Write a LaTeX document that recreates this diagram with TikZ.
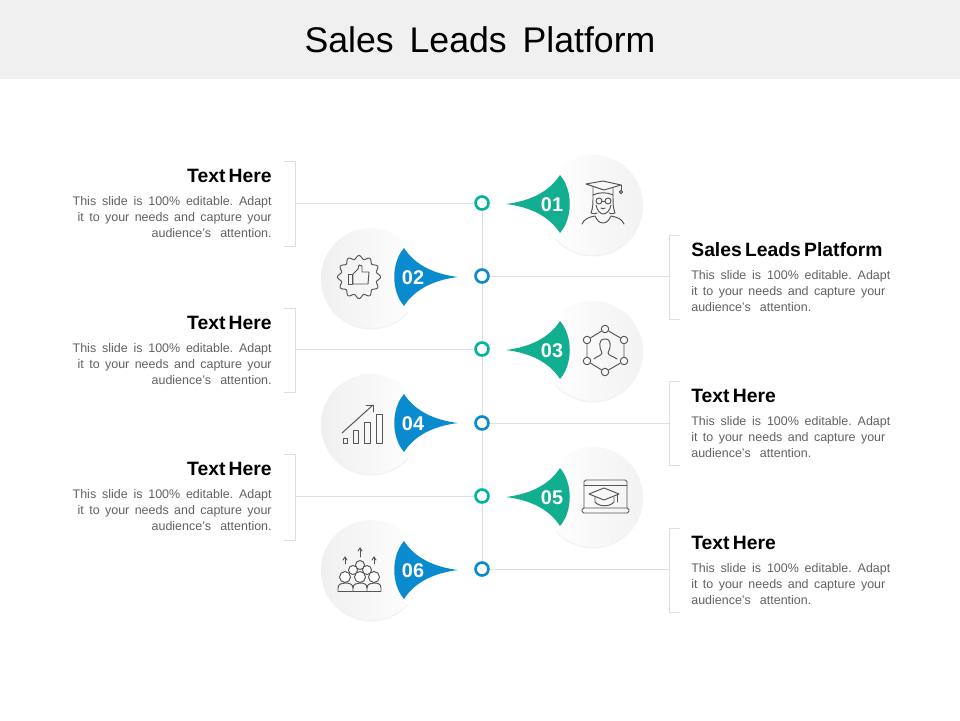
\documentclass[tikz,border=0pt]{standalone}
\usepackage{fontspec}
\setmainfont{Liberation Sans}
\usetikzlibrary{shadows}
\definecolor{leadgreen}{HTML}{11AE90}
\definecolor{leadteal}{HTML}{00B4A0}
\definecolor{leadblue}{HTML}{0A8BD0}
\definecolor{leadrule}{HTML}{DEDEDE}
\definecolor{leadicon}{HTML}{555555}
\frenchspacing
\newcommand{\blurb}{\makebox[3.98cm][s]{This slide is 100\% editable. Adapt}\\\makebox[3.88cm][s]{it to your needs and capture your}\\\makebox[2.4cm][s]{audience's attention.}}

\begin{document}
\begin{tikzpicture}[x=0.02cm, y=-0.02cm,
			rule/.style={draw=leadrule, line width=0.55pt},
			icon/.style={draw=leadicon, line width=0.55pt, line join=round, line cap=round},
			disc/.style={circle, minimum size=2cm, inner sep=0pt, drop shadow={shadow xshift=0pt, shadow yshift=-0.9pt, opacity=0.1}},
			discr/.style={disc, left color=white, right color=black!5},
			discl/.style={disc, left color=black!6, right color=white},
			hub/.style={circle, fill=white, minimum size=0.26cm, inner sep=0pt, line width=1.5pt},
			num/.style={text=white, font=\bfseries\fontsize{11.3}{13}\selectfont},
			head/.style={font=\bfseries\fontsize{11}{13}\selectfont, inner sep=0pt},
			body/.style={font=\fontsize{7.1}{9.1}\selectfont, text=black!62, inner sep=0pt},
			dot/.style={icon, circle, minimum size=0.15cm, inner sep=0pt},
			petal/.pic={\fill[pic actions] (-46,0) .. controls (-22,-3) and (-3,-12) .. (8,-29) .. controls (21,-14) and (21,14) .. (8,29) .. controls (-3,12) and (-22,3) .. (-46,0) -- cycle;}]
			\useasboundingbox (0,0) rectangle (960,720);
			\fill[black!6] (0,0) rectangle (960,79);
			\node[font=\fontsize{20.3}{24}\selectfont] (title) at (480,40) {Sales\, Leads\, Platform};

			\node[discr] (disc1) at (593,205) {};
			\node[discl] (disc2) at (371,278) {};
			\node[discr] (disc3) at (593,351) {};
			\node[discl] (disc4) at (371,424) {};
			\node[discr] (disc5) at (593,497) {};
			\node[discl] (disc6) at (371,570) {};
			\fill[white] (526,204) circle[radius=46];
			\fill[white] (438,277) circle[radius=46];
			\fill[white] (526,350) circle[radius=46];
			\fill[white] (438,423) circle[radius=46];
			\fill[white] (526,497) circle[radius=46];
			\fill[white] (438,570) circle[radius=46];

			\node[hub, draw=leadteal] (hub1) at (482,203) {};
			\node[hub, draw=leadblue] (hub2) at (482,276) {};
			\node[hub, draw=leadteal] (hub3) at (482,349) {};
			\node[hub, draw=leadblue] (hub4) at (482,423) {};
			\node[hub, draw=leadteal] (hub5) at (482,496) {};
			\node[hub, draw=leadblue] (hub6) at (482,569) {};
			\draw[rule] (hub1) -- (hub2);
			\draw[rule] (hub2) -- (hub3);
			\draw[rule] (hub3) -- (hub4);
			\draw[rule] (hub4) -- (hub5);
			\draw[rule] (hub5) -- (hub6);

			\coordinate (brace1) at (295,203);
			\coordinate (brace2) at (669,276);
			\coordinate (brace3) at (295,349);
			\coordinate (brace4) at (669,423);
			\coordinate (brace5) at (295,496);
			\coordinate (brace6) at (669,569);
			\draw[rule] (hub1) -- (brace1);
			\draw[rule] (hub2) -- (brace2);
			\draw[rule] (hub3) -- (brace3);
			\draw[rule] (hub4) -- (brace4);
			\draw[rule] (hub5) -- (brace5);
			\draw[rule] (hub6) -- (brace6);
			\draw[rule] (brace1) ++(-11,-42) -- ++(11,0) -- ++(0,85) -- ++(-11,0);
			\draw[rule] (brace2) ++(11,-41) -- ++(-11,0) -- ++(0,84) -- ++(11,0);
			\draw[rule] (brace3) ++(-11,-41) -- ++(11,0) -- ++(0,84) -- ++(-11,0);
			\draw[rule] (brace4) ++(11,-42) -- ++(-11,0) -- ++(0,84) -- ++(11,0);
			\draw[rule] (brace5) ++(-11,-42) -- ++(11,0) -- ++(0,86) -- ++(-11,0);
			\draw[rule] (brace6) ++(11,-41) -- ++(-11,0) -- ++(0,84) -- ++(11,0);

			\pic[fill=leadgreen] at (552,204) {petal};
			\pic[fill=leadblue, xscale=-1] at (412,277) {petal};
			\pic[fill=leadgreen] at (552,350) {petal};
			\pic[fill=leadblue, xscale=-1] at (412,423) {petal};
			\pic[fill=leadgreen] at (552,497) {petal};
			\pic[fill=leadblue, xscale=-1] at (412,570) {petal};
			\node[num] (num1) at (552,205) {01};
			\node[num] (num2) at (413,278) {02};
			\node[num] (num3) at (552,351) {03};
			\node[num] (num4) at (413,424) {04};
			\node[num] (num5) at (552,498) {05};
			\node[num] (num6) at (413,571) {06};

			\node[head, anchor=east] (head1) at (272,176) {Text\,Here};
			\node[body, anchor=north east, align=right] (text1) at (272,196) {\blurb};
			\node[head, anchor=west] (head2) at (691,250) {Sales\,Leads\,Platform};
			\node[body, anchor=north west, align=left] (text2) at (691,270) {\blurb};
			\node[head, anchor=east] (head3) at (272,323) {Text\,Here};
			\node[body, anchor=north east, align=right] (text3) at (272,343) {\blurb};
			\node[head, anchor=west] (head4) at (691,396) {Text\,Here};
			\node[body, anchor=north west, align=left] (text4) at (691,416) {\blurb};
			\node[head, anchor=east] (head5) at (272,469) {Text\,Here};
			\node[body, anchor=north east, align=right] (text5) at (272,489) {\blurb};
			\node[head, anchor=west] (head6) at (691,543) {Text\,Here};
			\node[body, anchor=north west, align=left] (text6) at (691,563) {\blurb};

			\begin{scope}[shift={(disc1.center)}, icon]
				\draw (-7,-21) -- (10,-24) -- (28,-20) -- (11,-15) -- cycle;
				\draw (28,-20) -- (28,-15);
				\draw (28,-13) circle[radius=1.6];
				\draw (0,-18) -- (0,-10) .. controls (6,-13) and (14,-13) .. (20,-10) -- (20,-17);
				\draw (0,-10) .. controls (0,-2) and (0,3) .. (-2,8) .. controls (0,9) and (2,9) .. (4,8);
				\draw (20,-10) .. controls (20,-2) and (20,3) .. (22,8) .. controls (20,9) and (18,9) .. (16,8);
				\draw (6,-4) circle[radius=3];
				\draw (15,-4) circle[radius=3];
				\draw (9,-4) -- (12,-4);
				\draw (3,0) .. controls (4,6) and (8,9) .. (10,9) .. controls (13,9) and (17,6) .. (18,0);
				\draw (8,3) .. controls (9,4) and (11,4) .. (12,3);
				\draw (-11,19) .. controls (-9,14) and (-4,12) .. (2,11) .. controls (4,15) and (6,18) .. (10,18) .. controls (14,18) and (16,15) .. (18,11) .. controls (24,12) and (29,14) .. (31,19);
			\end{scope}

			\begin{scope}[shift={(disc2.center)}, icon]
				\draw plot[domain=0:360, samples=97, smooth] ({-12+(19.8+1.8*cos(12*\x))*cos(\x)}, {-1+(19.8+1.8*cos(12*\x))*sin(\x)}) -- cycle;
				\draw (-23,-4) rectangle (-19,6);
				\draw (-18,-4) -- (-13,-9) -- (-12,-13) -- (-9,-12) -- (-9,-6) -- (-2,-6) -- (-3,6) -- (-18,6) -- cycle;
			\end{scope}

			\begin{scope}[shift={(disc3.center)}, icon]
				\node[dot] (ring1) at (12,-22) {};
				\node[dot] (ring2) at (31,-11) {};
				\node[dot] (ring3) at (31,10) {};
				\node[dot] (ring4) at (12,21) {};
				\node[dot] (ring5) at (-6,10) {};
				\node[dot] (ring6) at (-6,-11) {};
				\draw (ring1) -- (ring2) -- (ring3) -- (ring4) -- (ring5) -- (ring6) -- (ring1);
				\draw (1,8) .. controls (4,5) and (8,5) .. (9,2) .. controls (6,-4) and (5,-12) .. (12,-12) .. controls (19,-12) and (18,-4) .. (15,2) .. controls (16,5) and (20,5) .. (24,8);
			\end{scope}

			\begin{scope}[shift={(disc4.center)}, icon]
				\draw (-28,14) rectangle (-24,19);
				\draw (-18,6) rectangle (-13,19);
				\draw (-7,-2) rectangle (-1,19);
				\draw (5,-10) rectangle (11,19);
				\draw (-29,9) -- (2,-19);
				\draw (-5,-19) -- (2,-19) -- (2,-12);
			\end{scope}

			\begin{scope}[shift={(disc5.center)}, icon]
				\draw[rounded corners=1pt] (-9,11) -- (-9,-17) -- (34,-17) -- (34,11);
				\draw (-9,-12) -- (34,-12);
				\draw[rounded corners=1pt] (-11,11) rectangle (36,16);
				\draw (-4,-3) -- (11,-9) -- (26,-3) -- (11,3) -- cycle;
				\draw (2,0) -- (2,5) .. controls (6,10) and (17,10) .. (21,5) -- (21,0);
				\draw (24,-3) -- (24,5);
			\end{scope}

			\begin{scope}[shift={(disc6.center)}, icon]
				\draw (-26,-6) -- (-26,-13);
				\draw (-28,-10) -- (-26,-13) -- (-24,-10);
				\draw (-11,-13) -- (-11,-22);
				\draw (-13,-19) -- (-11,-22) -- (-9,-19);
				\draw (3,-6) -- (3,-13);
				\draw (1,-10) -- (3,-13) -- (5,-10);
				\draw (-11,-5) circle[radius=4.5];
				\draw[fill=white] (-18,0) circle[radius=4.5];
				\draw[fill=white] (-4,0) circle[radius=4.5];
				\draw[fill=white] (-26,7) circle[radius=5.5];
				\draw[fill=white] (-11,7) circle[radius=5.5];
				\draw[fill=white] (3,7) circle[radius=5.5];
				\draw (-33,21) -- (-33,18) .. controls (-33,14) and (-29,13) .. (-26,13) .. controls (-22,13) and (-18,14) .. (-18,18) -- (-18,21);
				\draw (-18,18) .. controls (-18,14) and (-14,13) .. (-11,13) .. controls (-7,13) and (-4,14) .. (-4,18) -- (-4,21);
				\draw (-4,18) .. controls (-4,14) and (0,13) .. (3,13) .. controls (7,13) and (10,14) .. (10,18) -- (10,21);
				\draw (-33,21) -- (10,21);
			\end{scope}
		\end{tikzpicture}
\end{document}
